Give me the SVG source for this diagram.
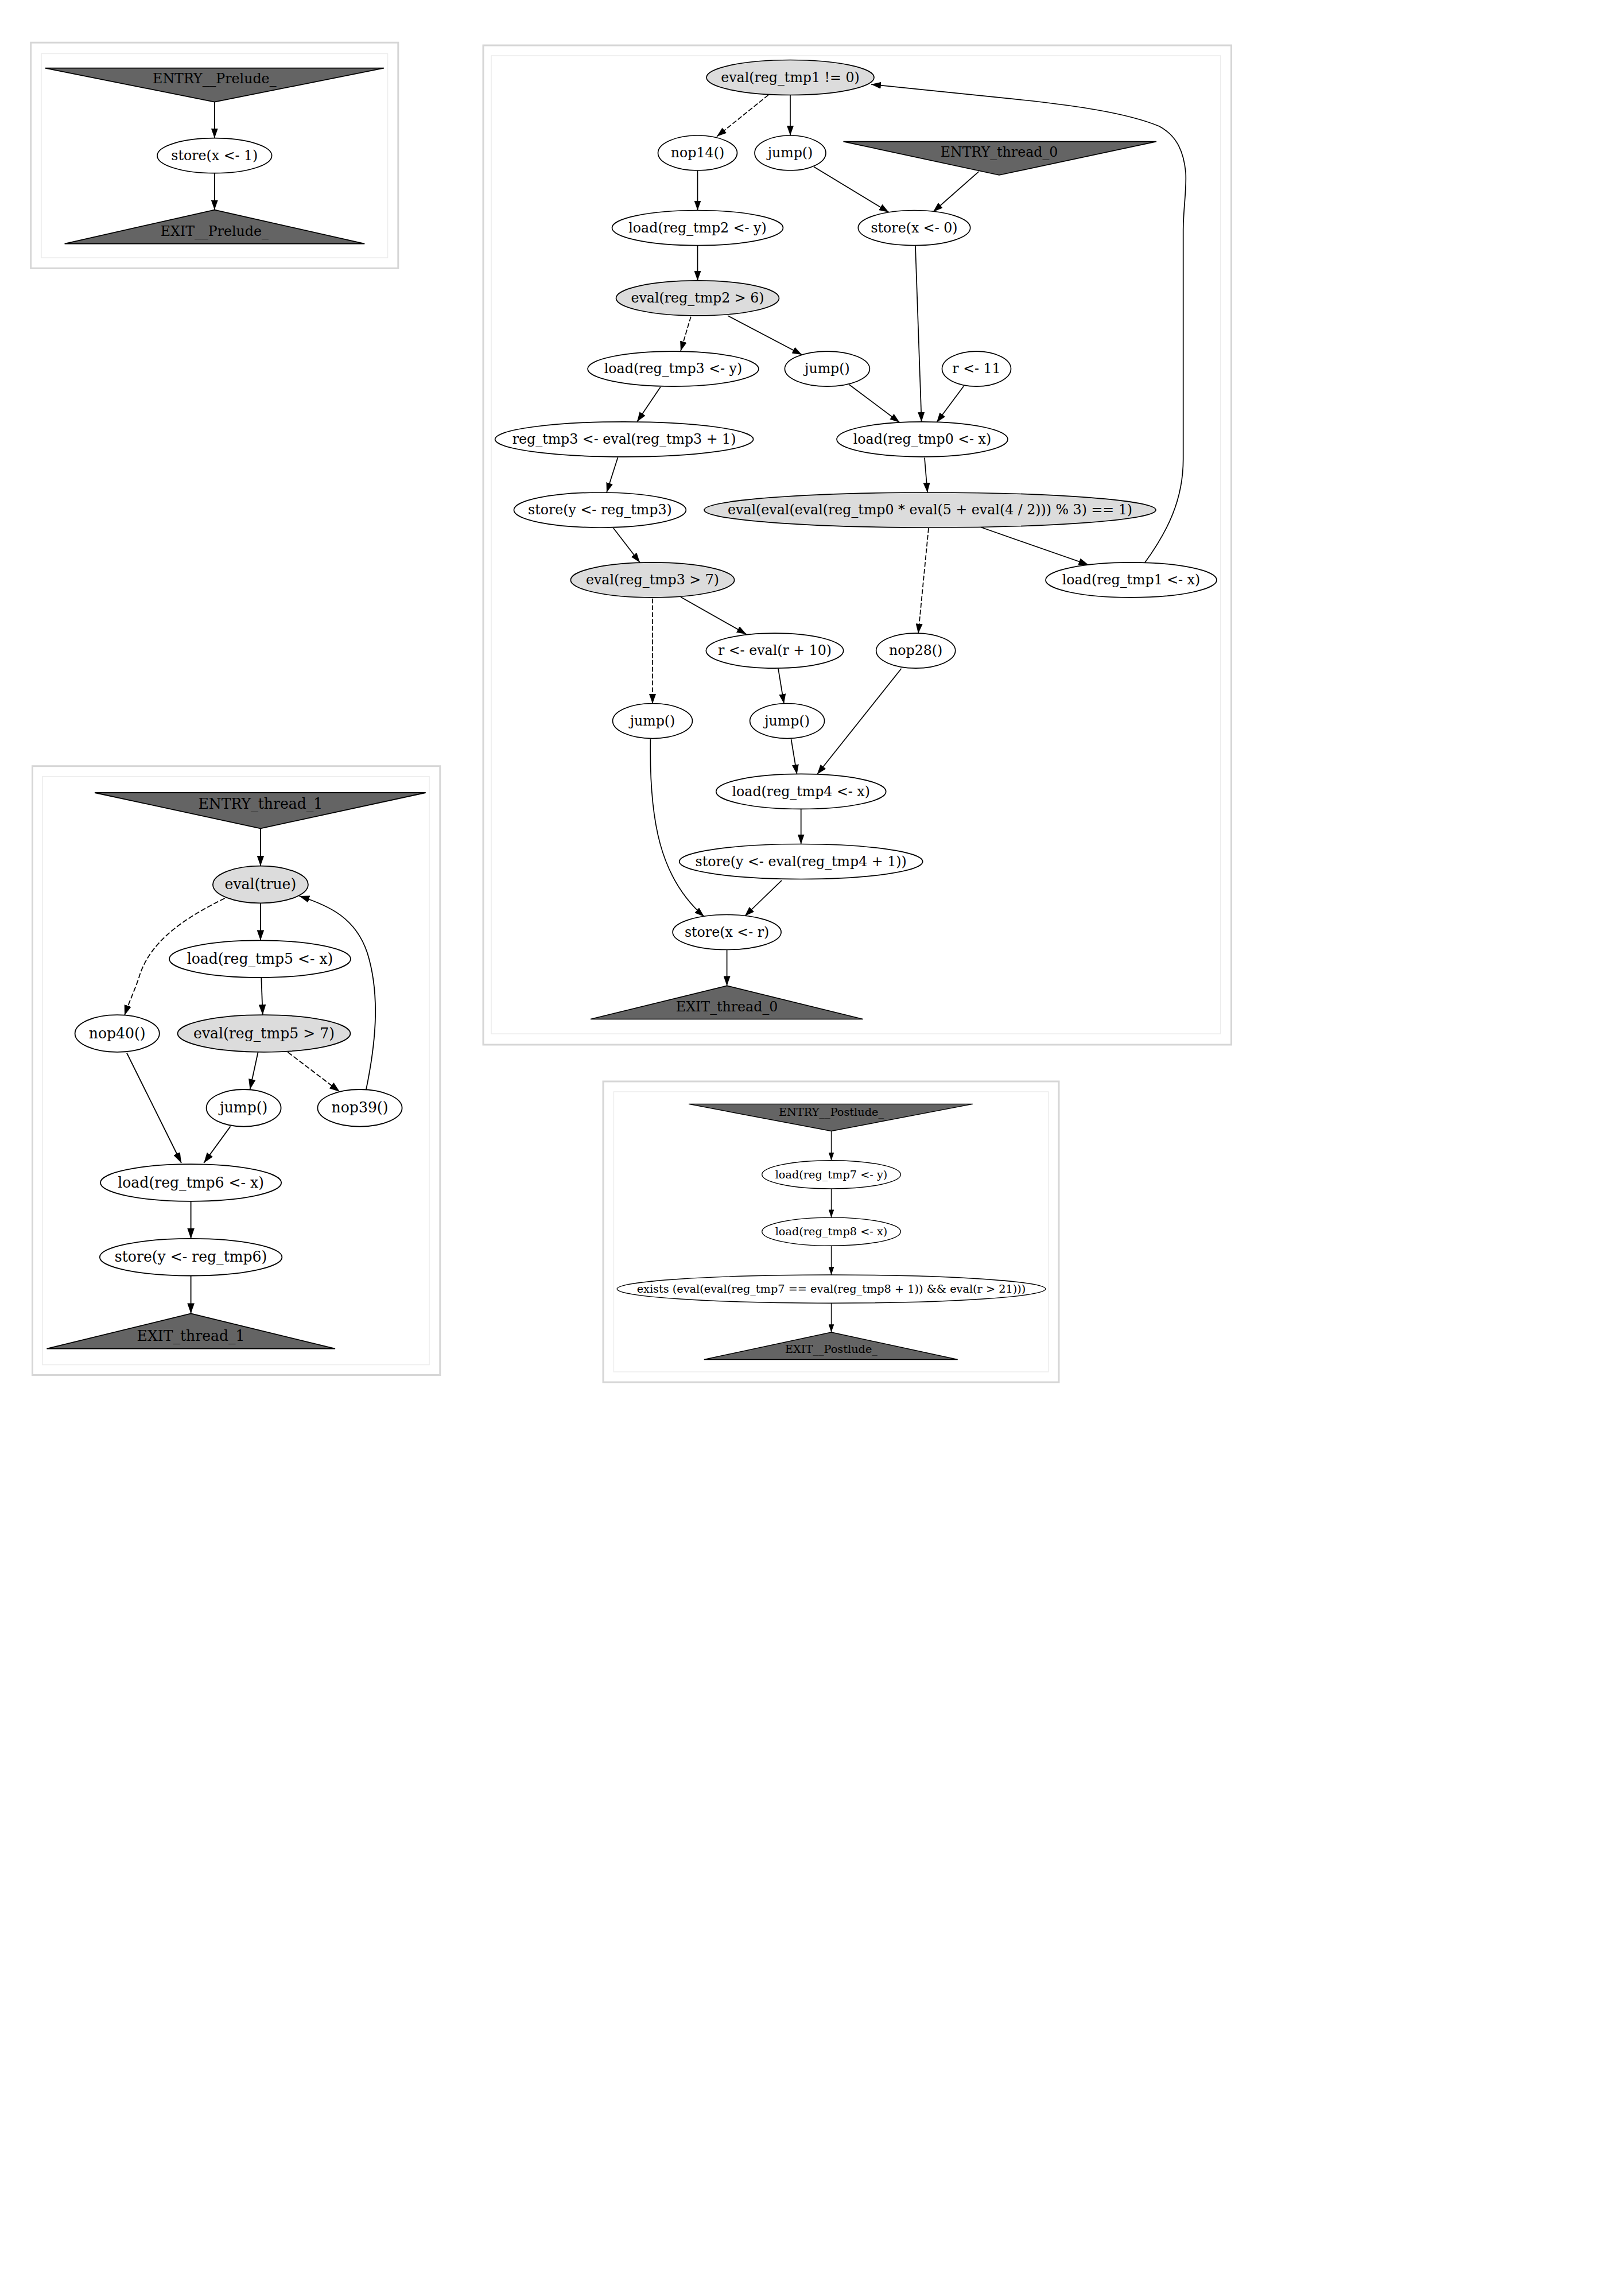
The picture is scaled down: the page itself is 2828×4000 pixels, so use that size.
<svg xmlns="http://www.w3.org/2000/svg" width="2828" height="4000" viewBox="0 0 2828 4000">
<style>
  text { font-family: "DejaVu Serif", "Liberation Serif", serif; fill: #000; text-anchor: middle; }
  .t0 { font-size: 23.7px; }
  .t1 { font-size: 25.1px; }
  .t2 { font-size: 19.3px; }
  .outer { fill: #fff; stroke: #d6d6d6; stroke-width: 3; }
  .inner { fill: none; stroke: #ececec; stroke-width: 1.5; }
  .n0 { fill: #fff; stroke: #000; stroke-width: 1.7; }
  .n1 { fill: #fff; stroke: #000; stroke-width: 1.8; }
  .n2 { fill: #fff; stroke: #000; stroke-width: 1.4; }
  .g { fill: #dcdcdc; }
  .tri { fill: #646464; stroke: #000; }
  .e0 { fill: none; stroke: #000; stroke-width: 1.7; marker-end: url(#a0); }
  .e1 { fill: none; stroke: #000; stroke-width: 1.8; marker-end: url(#a1); }
  .e2 { fill: none; stroke: #000; stroke-width: 1.4; marker-end: url(#a2); }
  .d0 { stroke-dasharray: 8.5 3.4; }
  .d1 { stroke-dasharray: 9 3.6; }
</style>
<defs>
  <marker id="a0" markerUnits="userSpaceOnUse" viewBox="0 0 17 12" markerWidth="17" markerHeight="12" refX="17" refY="6" orient="auto"><path d="M0,0 L17,6 L0,12 z" fill="#000"/></marker>
  <marker id="a1" markerUnits="userSpaceOnUse" viewBox="0 0 18 12.6" markerWidth="18" markerHeight="12.6" refX="18" refY="6.3" orient="auto"><path d="M0,0 L18,6.3 L0,12.6 z" fill="#000"/></marker>
  <marker id="a2" markerUnits="userSpaceOnUse" viewBox="0 0 13.7 9.6" markerWidth="13.7" markerHeight="9.6" refX="13.7" refY="4.8" orient="auto"><path d="M0,0 L13.7,4.8 L0,9.6 z" fill="#000"/></marker>
</defs>
<rect width="2828" height="4000" fill="#fff"/>

<!-- Prelude cluster -->
<g id="cluster_prelude">
  <rect class="outer" x="53.7" y="74.2" width="640.1" height="393.2"/>
  <rect class="inner" x="72" y="93.4" width="603.5" height="355.6"/>
</g>
<g id="cluster_thread0">
  <rect class="outer" x="842" y="79" width="1303.5" height="1741"/>
  <rect class="inner" x="856" y="97" width="1270.6" height="1704"/>
</g>
<g id="cluster_thread1">
  <rect class="outer" x="56.5" y="1334.7" width="710.3" height="1060.8"/>
  <rect class="inner" x="74" y="1352.7" width="674" height="1024.9"/>
</g>
<g id="cluster_postlude">
  <rect class="outer" x="1051" y="1884" width="794" height="524"/>
  <rect class="inner" x="1069.4" y="1902" width="757.3" height="488"/>
</g>

<!-- Connectors -->
<g id="edges">
  <!-- Prelude -->
  <path class="e0" d="M373.8,177.6 L373.8,240.7"/>
  <path class="e0" d="M373.8,301.7 L373.8,365.6"/>
  <!-- thread_0 -->
  <path class="e0 d0" d="M1338.7,165.6 L1249,237.8"/>
  <path class="e0" d="M1377,165.6 L1377,236"/>
  <path class="e0" d="M1418,290.6 L1548.8,369.8"/>
  <path class="e0" d="M1705.5,298.8 L1626,369"/>
  <path class="e0" d="M1215.5,297 L1215.5,366.5"/>
  <path class="e0" d="M1215.5,427.5 L1215.5,489"/>
  <path class="e0 d0" d="M1203.8,551.7 L1186,611.5"/>
  <path class="e0" d="M1268,550 L1397.4,618"/>
  <path class="e0" d="M1595,428.5 L1605.7,735"/>
  <path class="e0" d="M1479.6,670 L1567.6,736"/>
  <path class="e0" d="M1679,673 L1632,736"/>
  <path class="e0" d="M1151,674 L1110,734.8"/>
  <path class="e0" d="M1076.5,797 L1057,858"/>
  <path class="e0" d="M1068.8,920 L1115,980"/>
  <path class="e0" d="M1611,797.5 L1616,858"/>
  <path class="e0 d0" d="M1618,920 L1600,1103.7"/>
  <path class="e0" d="M1707,917.8 L1896.6,984"/>
  <path class="e0" d="M1995,980 C2035,925 2061.7,870 2061.7,800 L2061.7,400 C2062,360 2068,330 2066,300 C2062,260 2048,235 2020,220 C1960,195 1860,183 1800,176 L1518,147"/>
  <path class="e0 d0" d="M1137,1042.7 L1137,1226"/>
  <path class="e0" d="M1186,1040 L1300.6,1104.9"/>
  <path class="e0" d="M1356,1164.7 L1366,1226"/>
  <path class="e0" d="M1378.6,1288 L1388.6,1349"/>
  <path class="e0" d="M1570.5,1164.7 L1423.8,1349"/>
  <path class="e0" d="M1395.7,1409.5 L1395.7,1470.5"/>
  <path class="e0" d="M1362,1533.8 L1297.7,1596"/>
  <path class="e0" d="M1133.4,1288 C1131,1430 1150,1530 1227,1597"/>
  <path class="e0" d="M1266.6,1654.5 L1266.6,1717.4"/>
  <!-- thread_1 -->
  <path class="e1" d="M453.9,1443.3 L453.9,1508.7"/>
  <path class="e1" d="M453.9,1573.3 L453.9,1638.4"/>
  <path class="e1 d1" d="M391.6,1565 C320,1600 262,1640 243,1700 C237,1720 225,1745 217,1769"/>
  <path class="e1" d="M455.3,1703 L457.7,1768.2"/>
  <path class="e1" d="M449.6,1833 L435.5,1898"/>
  <path class="e1 d1" d="M501.5,1833 L592,1902"/>
  <path class="e1" d="M638,1898 C652,1830 665,1740 640,1660 C620,1600 575,1578 521.4,1561"/>
  <path class="e1" d="M220.7,1834 L316,2026"/>
  <path class="e1" d="M401.5,1962.4 L355.2,2026"/>
  <path class="e1" d="M332.6,2092.8 L332.6,2157.9"/>
  <path class="e1" d="M332.6,2222.5 L332.6,2288.4"/>
  <!-- Postlude -->
  <path class="e2" d="M1448.5,1970.5 L1448.5,2021.7"/>
  <path class="e2" d="M1448.5,2070.9 L1448.5,2121.1"/>
  <path class="e2" d="M1448.5,2170.3 L1448.5,2221"/>
  <path class="e2" d="M1448.5,2270.2 L1448.5,2321"/>
</g>

<!-- Prelude nodes -->
<g id="entry_prelude"><polygon class="tri" stroke-width="1.7" points="78.5,118.6 669,118.6 373.8,177.6"/><text class="t0" x="373.8" y="144.6">ENTRY__Prelude_</text></g>
<g id="p_store_x1"><ellipse class="n0" cx="373.8" cy="271.2" rx="99.8" ry="30.5"/><text class="t0" x="373.8" y="278.8">store(x &lt;- 1)</text></g>
<g id="exit_prelude"><polygon class="tri" stroke-width="1.7" points="373.8,365.6 635.3,424.6 112.6,424.6"/><text class="t0" x="373.8" y="410.6">EXIT__Prelude_</text></g>

<!-- thread_0 nodes -->
<g id="t0_eval_tmp1"><ellipse class="n0 g" cx="1377" cy="135" rx="146" ry="30.5"/><text class="t0" x="1377" y="142.6">eval(reg_tmp1 != 0)</text></g>
<g id="t0_nop14"><ellipse class="n0" cx="1215.5" cy="266.5" rx="69" ry="30.5"/><text class="t0" x="1215.5" y="274.1">nop14()</text></g>
<g id="t0_jump1"><ellipse class="n0" cx="1377" cy="266.5" rx="62" ry="30.5"/><text class="t0" x="1377" y="274.1">jump()</text></g>
<g id="entry_thread_0"><polygon class="tri" stroke-width="1.7" points="1469.5,246.6 2015,246.6 1741,305"/><text class="t0" x="1741" y="272.6">ENTRY_thread_0</text></g>
<g id="t0_load_tmp2"><ellipse class="n0" cx="1215.5" cy="397" rx="149" ry="30.5"/><text class="t0" x="1215.5" y="404.6">load(reg_tmp2 &lt;- y)</text></g>
<g id="t0_store_x0"><ellipse class="n0" cx="1593" cy="397" rx="97.7" ry="30.5"/><text class="t0" x="1593" y="404.6">store(x &lt;- 0)</text></g>
<g id="t0_eval_tmp2"><ellipse class="n0 g" cx="1215.5" cy="519.4" rx="142" ry="30.5"/><text class="t0" x="1215.5" y="527">eval(reg_tmp2 &gt; 6)</text></g>
<g id="t0_load_tmp3"><ellipse class="n0" cx="1173" cy="642.6" rx="149" ry="30.5"/><text class="t0" x="1173" y="650.2">load(reg_tmp3 &lt;- y)</text></g>
<g id="t0_jump2"><ellipse class="n0" cx="1441.4" cy="642.6" rx="74" ry="30.5"/><text class="t0" x="1441.4" y="650.2">jump()</text></g>
<g id="t0_r11"><ellipse class="n0" cx="1701.5" cy="642.6" rx="60" ry="30.5"/><text class="t0" x="1701.5" y="650.2">r &lt;- 11</text></g>
<g id="t0_tmp3_inc"><ellipse class="n0" cx="1087.6" cy="765.3" rx="225" ry="30.5"/><text class="t0" x="1087.6" y="772.9">reg_tmp3 &lt;- eval(reg_tmp3 + 1)</text></g>
<g id="t0_load_tmp0"><ellipse class="n0" cx="1607" cy="765.3" rx="149" ry="30.5"/><text class="t0" x="1607" y="772.9">load(reg_tmp0 &lt;- x)</text></g>
<g id="t0_store_y_tmp3"><ellipse class="n0" cx="1045.4" cy="888.5" rx="150" ry="30.5"/><text class="t0" x="1045.4" y="896.1">store(y &lt;- reg_tmp3)</text></g>
<g id="t0_eval_big"><ellipse class="n0 g" cx="1620.5" cy="888.5" rx="393.5" ry="30.5"/><text class="t0" x="1620.5" y="896.1">eval(eval(eval(reg_tmp0 * eval(5 + eval(4 / 2))) % 3) == 1)</text></g>
<g id="t0_eval_tmp3"><ellipse class="n0 g" cx="1137" cy="1010.4" rx="142.6" ry="30.5"/><text class="t0" x="1137" y="1018">eval(reg_tmp3 &gt; 7)</text></g>
<g id="t0_load_tmp1"><ellipse class="n0" cx="1971" cy="1010.4" rx="149" ry="30.5"/><text class="t0" x="1971" y="1018">load(reg_tmp1 &lt;- x)</text></g>
<g id="t0_r_inc"><ellipse class="n0" cx="1350" cy="1133.6" rx="119.7" ry="30.5"/><text class="t0" x="1350" y="1141.2">r &lt;- eval(r + 10)</text></g>
<g id="t0_nop28"><ellipse class="n0" cx="1595.7" cy="1133.6" rx="69" ry="30.5"/><text class="t0" x="1595.7" y="1141.2">nop28()</text></g>
<g id="t0_jump3"><ellipse class="n0" cx="1137" cy="1256" rx="69.5" ry="30.5"/><text class="t0" x="1137" y="1263.6">jump()</text></g>
<g id="t0_jump4"><ellipse class="n0" cx="1371.6" cy="1256" rx="65" ry="30.5"/><text class="t0" x="1371.6" y="1263.6">jump()</text></g>
<g id="t0_load_tmp4"><ellipse class="n0" cx="1395.7" cy="1378.9" rx="148" ry="30.5"/><text class="t0" x="1395.7" y="1386.5">load(reg_tmp4 &lt;- x)</text></g>
<g id="t0_store_y_tmp4"><ellipse class="n0" cx="1395.7" cy="1501" rx="212" ry="30.5"/><text class="t0" x="1395.7" y="1508.6">store(y &lt;- eval(reg_tmp4 + 1))</text></g>
<g id="t0_store_x_r"><ellipse class="n0" cx="1266.6" cy="1624" rx="94.5" ry="30.5"/><text class="t0" x="1266.6" y="1631.6">store(x &lt;- r)</text></g>
<g id="exit_thread_0"><polygon class="tri" stroke-width="1.7" points="1266.6,1717.4 1503.6,1775.5 1029,1775.5"/><text class="t0" x="1266.6" y="1761.6">EXIT_thread_0</text></g>

<!-- thread_1 nodes -->
<g id="entry_thread_1"><polygon class="tri" stroke-width="1.8" points="165,1381 741.7,1381 453.9,1443.3"/><text class="t1" x="453.9" y="1408.8">ENTRY_thread_1</text></g>
<g id="t1_eval_true"><ellipse class="n1 g" cx="453.9" cy="1541" rx="83" ry="32.3"/><text class="t1" x="453.9" y="1549">eval(true)</text></g>
<g id="t1_load_tmp5"><ellipse class="n1" cx="453" cy="1670.7" rx="158" ry="32.3"/><text class="t1" x="453" y="1678.7">load(reg_tmp5 &lt;- x)</text></g>
<g id="t1_nop40"><ellipse class="n1" cx="204.2" cy="1800.5" rx="73.6" ry="32.3"/><text class="t1" x="204.2" y="1808.5">nop40()</text></g>
<g id="t1_eval_tmp5"><ellipse class="n1 g" cx="460" cy="1800.5" rx="150.5" ry="32.3"/><text class="t1" x="460" y="1808.5">eval(reg_tmp5 &gt; 7)</text></g>
<g id="t1_jump"><ellipse class="n1" cx="424.6" cy="1930.3" rx="65" ry="32.3"/><text class="t1" x="424.6" y="1938.3">jump()</text></g>
<g id="t1_nop39"><ellipse class="n1" cx="627" cy="1930.3" rx="73.6" ry="32.3"/><text class="t1" x="627" y="1938.3">nop39()</text></g>
<g id="t1_load_tmp6"><ellipse class="n1" cx="332.6" cy="2060.5" rx="157.6" ry="32.3"/><text class="t1" x="332.6" y="2068.5">load(reg_tmp6 &lt;- x)</text></g>
<g id="t1_store_y_tmp6"><ellipse class="n1" cx="332.6" cy="2190.2" rx="158.8" ry="32.3"/><text class="t1" x="332.6" y="2198.2">store(y &lt;- reg_tmp6)</text></g>
<g id="exit_thread_1"><polygon class="tri" stroke-width="1.8" points="332.6,2288.4 584,2349.7 81.5,2349.7"/><text class="t1" x="332.6" y="2336">EXIT_thread_1</text></g>

<!-- Postlude nodes -->
<g id="entry_postlude"><polygon class="tri" stroke-width="1.4" points="1200,1923.4 1694.9,1923.4 1448.5,1970.5"/><text class="t2" x="1448.5" y="1943.7">ENTRY__Postlude_</text></g>
<g id="p_load_tmp7"><ellipse class="n2" cx="1448.5" cy="2046.3" rx="120.8" ry="24.6"/><text class="t2" x="1448.5" y="2052.5">load(reg_tmp7 &lt;- y)</text></g>
<g id="p_load_tmp8"><ellipse class="n2" cx="1448.5" cy="2145.7" rx="120.8" ry="24.6"/><text class="t2" x="1448.5" y="2151.9">load(reg_tmp8 &lt;- x)</text></g>
<g id="p_exists"><ellipse class="n2" cx="1448.5" cy="2245.6" rx="373.4" ry="24.6"/><text class="t2" x="1448.5" y="2251.8">exists (eval(eval(reg_tmp7 == eval(reg_tmp8 + 1)) &amp;&amp; eval(r &gt; 21)))</text></g>
<g id="exit_postlude"><polygon class="tri" stroke-width="1.4" points="1448.5,2321 1668.7,2368.5 1226.8,2368.5"/><text class="t2" x="1448.5" y="2356.9">EXIT__Postlude_</text></g>
</svg>
